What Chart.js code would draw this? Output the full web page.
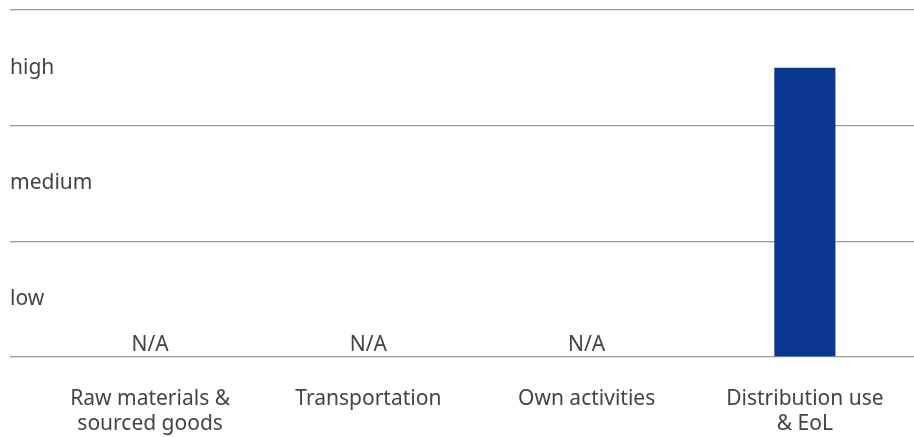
<!DOCTYPE html>
<html>
<head>
<meta charset="utf-8">
<script src="https://cdn.jsdelivr.net/npm/chart.js@4/dist/chart.umd.min.js"></script>
<style>
  html, body { margin: 0; padding: 0; background: #fff; }
  #wrap { width: 914px; height: 437px; }
</style>
</head>
<body>
<div id="wrap"><canvas id="impact-chart"></canvas></div>
<script>
const STAGES = [['Raw materials &', 'sourced goods'], 'Transportation', 'Own activities', ['Distribution use', '& EoL']];
// null means not assessed, shown as N/A
const IMPACT = [null, null, null, 2.5];
const LEVELS = ['low', 'medium', 'high'];
const NA_TEXT = 'N/A';

const BAR_COLOR = 'rgb(8, 54, 144)';
const GRID_COLOR = '#9a9a9a';
const TEXT_COLOR = '#444444';
const FONT = '"Noto Sans", sans-serif';
const FONT_SIZE = 21;

// level names sit in the middle of each band, N/A sits on the baseline
const bandLabels = {
  id: 'bandLabels',
  afterDatasetsDraw(chart) {
    const ctx = chart.ctx;
    const x = chart.scales.x;
    const y = chart.scales.y;
    ctx.save();
    ctx.fillStyle = TEXT_COLOR;
    ctx.font = FONT_SIZE + 'px ' + FONT;
    ctx.textBaseline = 'middle';
    ctx.textAlign = 'left';
    LEVELS.forEach((name, i) => {
      ctx.fillText(name, 10, y.getPixelForValue(i + 0.5));
    });
    ctx.textAlign = 'center';
    ctx.textBaseline = 'alphabetic';
    IMPACT.forEach((v, i) => {
      if (v === null)
        ctx.fillText(NA_TEXT, x.getPixelForValue(i), y.getPixelForValue(0) - 6);
    });
    ctx.restore();
  }
};

new Chart(document.getElementById('impact-chart'), {
  type: 'bar',
  data: {
    labels: STAGES,
    datasets: [{
      data: IMPACT,
      backgroundColor: BAR_COLOR,
      barPercentage: 0.28,
      categoryPercentage: 1,
    }],
  },
  options: {
    responsive: true,
    maintainAspectRatio: false,
    animation: false,
    layout: { padding: { left: 10, right: 0, top: 10, bottom: 0 } },
    plugins: { legend: { display: false }, tooltip: { enabled: false } },
    scales: {
      x: {
        grid: { display: false, drawTicks: false },
        border: { display: false },
        afterFit(scale) { scale.height = 80; },
        ticks: {
          color: TEXT_COLOR,
          font: { family: FONT, size: FONT_SIZE, lineHeight: 1.19 },
          padding: 30,
          maxRotation: 0,
          autoSkip: false,
        },
      },
      y: {
        min: 0,
        max: 3,
        border: { display: false },
        grid: { color: GRID_COLOR, lineWidth: 1.3, drawTicks: true, tickLength: 31 },
        ticks: { display: false, stepSize: 1 },
      },
    },
  },
  plugins: [bandLabels],
});
</script>
</body>
</html>
